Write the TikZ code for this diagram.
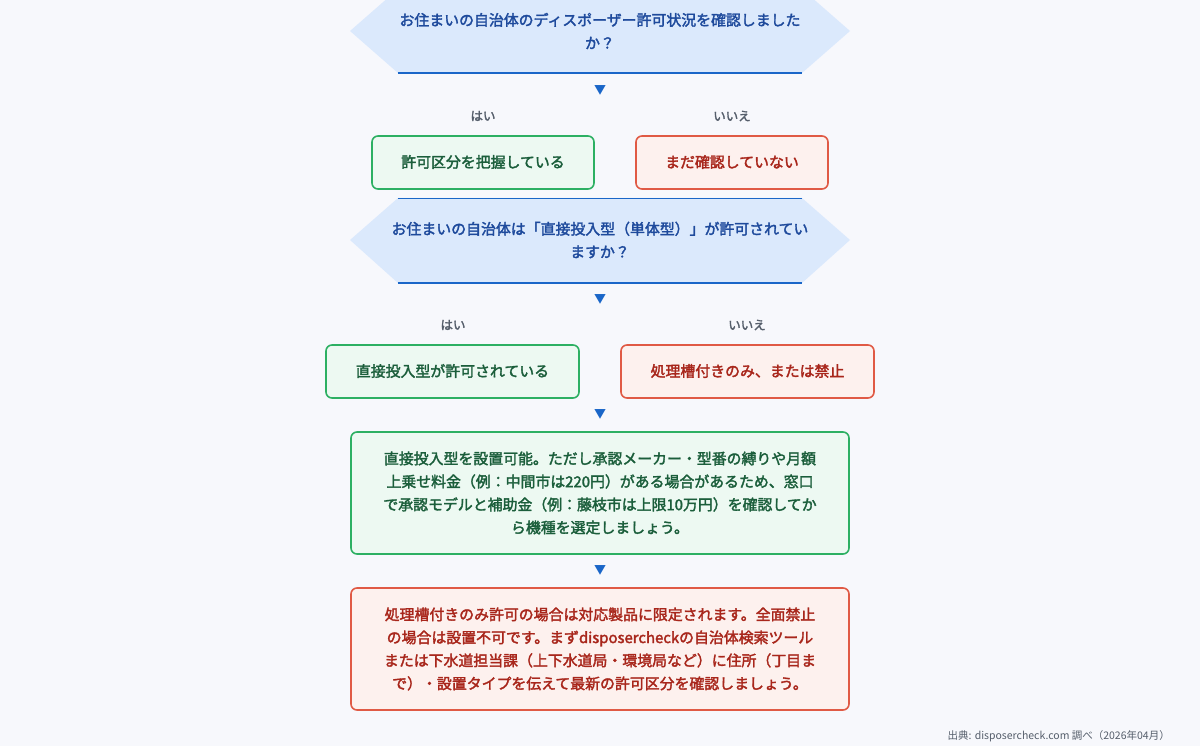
\documentclass[tikz,border=0pt]{standalone}
\usepackage{fontspec}
\setmainfont{Noto Sans CJK JP}
\newfontfamily\jpb{Noto Sans CJK JP}[FakeBold=2.2]
\begin{document}
\definecolor{bg}{HTML}{F7F8FC}
\definecolor{hexf}{HTML}{DBE9FC}
\definecolor{hexl}{HTML}{1A66C8}
\definecolor{hext}{HTML}{1E4A9C}
\definecolor{gb}{HTML}{2DB063}
\definecolor{gf}{HTML}{EDF9F2}
\definecolor{gt}{HTML}{1B5E3B}
\definecolor{rb}{HTML}{E05A45}
\definecolor{rf}{HTML}{FDF1EE}
\definecolor{rt}{HTML}{A8261B}
\definecolor{lab}{HTML}{555E6B}
\begin{tikzpicture}[x=1pt,y=-1pt,
  t/.style={font=\jpb\fontsize{14.9}{23}\selectfont,align=center,inner sep=0},
  lbl/.style={font=\jpb\fontsize{12.5}{14}\selectfont,text=lab,inner sep=0},
  arr/.style={font=\fontsize{12}{14}\selectfont,text=hexl,inner sep=0},
  gbox/.style={draw=gb,fill=gf,line width=1.6pt,rounded corners=6pt},
  rbox/.style={draw=rb,fill=rf,line width=1.6pt,rounded corners=6pt}]
\fill[bg] (0,0) rectangle (1200,746);
\useasboundingbox (0,0) rectangle (1200,746);
% hex 1
\fill[hexf] (350,31) -- (398,-11) -- (802,-11) -- (850,31) -- (802,73) -- (398,73) -- cycle;
\draw[hexl,line width=1.2pt] (398,73) -- (802,73);
\node[t,text=hext] (q1) at (600,31) {お住まいの自治体のディスポーザー許可状況を確認しました\\か？};
\node[arr] (a1) at (600,90) {▼};
\node[lbl] (y1) at (483,116) {はい};
\node[lbl] (n1) at (732,116) {いいえ};
\draw[gbox] (372,136) rectangle (594,189);
\node[t,text=gt] (b1) at (483,162) {許可区分を把握している};
\draw[rbox] (636,136) rectangle (828,189);
\node[t,text=rt] (b2) at (732,162) {まだ確認していない};
% hex 2
\fill[hexf] (350,240) -- (398,198) -- (802,198) -- (850,240) -- (802,283) -- (398,283) -- cycle;
\draw[hexl,line width=1.2pt] (398,198.5) -- (802,198.5);
\draw[hexl,line width=1.2pt] (398,283) -- (802,283);
\node[t,text=hext] (q2) at (600,240) {お住まいの自治体は「直接投入型（単体型）」が許可されてい\\ますか？};
\node[arr] (a2) at (600,299) {▼};
\node[lbl] (y2) at (453,325) {はい};
\node[lbl] (n2) at (747,325) {いいえ};
\draw[gbox] (326,345) rectangle (579,398);
\node[t,text=gt] (b3) at (452.5,371) {直接投入型が許可されている};
\draw[rbox] (621,345) rectangle (874,398);
\node[t,text=rt] (b4) at (747.5,371) {処理槽付きのみ、または禁止};
\node[arr] (a3) at (600,414) {▼};
\draw[gbox] (351,432) rectangle (849,554);
\node[t,text=gt] (b5) at (600,493) {直接投入型を設置可能。ただし承認メーカー・型番の縛りや月額\\上乗せ料金（例：中間市は220円）がある場合があるため、窓口\\で承認モデルと補助金（例：藤枝市は上限10万円）を確認してか\\ら機種を選定しましょう。};
\node[arr] (a4) at (600,570) {▼};
\draw[rbox] (351,588) rectangle (849,710);
\node[t,text=rt] (b6) at (600,649) {処理槽付きのみ許可の場合は対応製品に限定されます。全面禁止\\の場合は設置不可です。まずdisposercheckの自治体検索ツール\\または下水道担当課（上下水道局・環境局など）に住所（丁目ま\\で）・設置タイプを伝えて最新の許可区分を確認しましょう。};
\node[lbl,font=\fontsize{10.5}{12}\selectfont,anchor=east] (src) at (1170,736) {出典: disposercheck.com 調べ（2026年04月）};
\end{tikzpicture}
\end{document}
